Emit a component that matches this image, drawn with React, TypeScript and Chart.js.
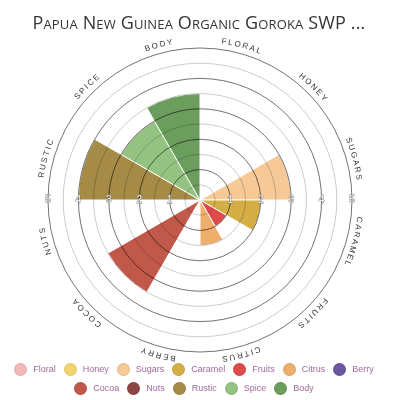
import React, { useEffect, useRef } from 'react'
import Chart from 'chart.js/auto'

const title = 'Papua New Guinea Organic Goroka SWP ...'
const categories = ['Floral', 'Honey', 'Sugars', 'Caramel', 'Fruits', 'Citrus', 'Berry', 'Cocoa', 'Nuts', 'Rustic', 'Spice', 'Body']
const intensity = [0, 0, 3, 2, 1, 1.5, 0, 3.5, 0, 4, 3, 3.5]
const colors = [
  '#f2b7b7', '#f3d46c', '#f7c996', '#d4ad45', '#df4a4a', '#eeae6c',
  '#6b579e', '#c0594a', '#8e4444', '#a58b46', '#94c381', '#6b9d5c',
]
const tickValues = [1, 2, 3, 4, 5]

// category names bent along the outer ring
const curvedLabels = {
  id: 'curvedLabels',
  afterDraw(chart: any) {
    const scale = chart.scales.r
    const ctx = chart.ctx
    const cx = scale.xCenter
    const cy = scale.yCenter
    const r = scale.drawingArea + 6
    const n = categories.length
    const spacing = 1.8
    ctx.save()
    ctx.font = '8px "Liberation Sans", Arial, sans-serif'
    ctx.fillStyle = '#333'
    ctx.textAlign = 'center'
    ctx.textBaseline = 'alphabetic'
    categories.forEach((label, i) => {
      const chars = label.toUpperCase().split('')
      const widths = chars.map((c) => ctx.measureText(c).width)
      const total = widths.reduce((a, b) => a + b, 0) + spacing * (chars.length - 1)
      const mid = -Math.PI / 2 + ((i + 0.5) * 2 * Math.PI) / n
      let acc = -total / 2
      chars.forEach((c, k) => {
        const a = mid + (acc + widths[k] / 2) / r
        ctx.save()
        ctx.translate(cx + r * Math.cos(a), cy + r * Math.sin(a))
        ctx.rotate(a + Math.PI / 2)
        ctx.fillText(c, 0, 0)
        ctx.restore()
        acc += widths[k] + spacing
      })
    })
    ctx.restore()
  },
}

// value ticks on both sides of the horizontal axis
const sideTicks = {
  id: 'sideTicks',
  afterDraw(chart: any) {
    const scale = chart.scales.r
    const ctx = chart.ctx
    ctx.save()
    ctx.font = '10px "Liberation Sans", Arial, sans-serif'
    ctx.textAlign = 'center'
    ctx.textBaseline = 'middle'
    ctx.lineWidth = 0.8
    ctx.strokeStyle = '#777'
    ctx.fillStyle = '#eee'
    tickValues.forEach((v) => {
      const d = scale.getDistanceFromCenterForValue(v)
      ;[-1, 1].forEach((side) => {
        const x = scale.xCenter + side * d
        ctx.strokeText(String(v), x, scale.yCenter)
        ctx.fillText(String(v), x, scale.yCenter)
      })
    })
    ctx.restore()
  },
}

export default function App() {
  const chartRef = useRef<HTMLCanvasElement>(null)
  const chartInstance = useRef<Chart | null>(null)

  useEffect(() => {
    if (!chartRef.current) return
    if (chartInstance.current) chartInstance.current.destroy()
    chartInstance.current = new Chart(chartRef.current, {
      type: 'polarArea',
      data: {
        labels: categories,
        datasets: [
          {
            data: intensity,
            backgroundColor: colors,
            borderColor: '#fff',
            borderWidth: 1,
          },
        ],
      },
      options: {
        animation: false,
        responsive: true,
        maintainAspectRatio: false,
        layout: { padding: { top: 48, bottom: 48 } },
        plugins: {
          legend: { display: false },
          tooltip: { enabled: false },
        },
        scales: {
          r: {
            min: 0,
            max: 5,
            ticks: { stepSize: 0.5, display: false },
            grid: {
              z: 1,
              lineWidth: 1,
              color: (c: any) =>
                c.tick && c.tick.value % 1 === 0 ? 'rgba(0,0,0,0.55)' : 'rgba(0,0,0,0.2)',
            },
            angleLines: { display: false },
            pointLabels: { display: false },
          },
        },
      },
      plugins: [curvedLabels, sideTicks],
    })
    return () => {
      if (chartInstance.current) {
        chartInstance.current.destroy()
        chartInstance.current = null
      }
    }
  }, [])

  return (
    <div style={{ position: 'absolute', left: 0, top: 0, width: 400, height: 400, background: '#fff' }}>
      <div style={{ position: 'absolute', left: 0, top: 0, width: 400, height: 400 }}>
        <canvas ref={chartRef} />
      </div>
      <div
        style={{
          position: 'absolute',
          left: 0,
          top: 12,
          width: 398,
          textAlign: 'center',
          fontFamily: '"Open Sans", sans-serif',
          fontVariant: 'small-caps',
          fontSize: 18,
          lineHeight: '20px',
          letterSpacing: 0.15,
          color: '#333',
          whiteSpace: 'nowrap',
        }}
      >
        {title}
      </div>
      <div
        style={{
          position: 'absolute',
          left: 0,
          top: 362.5,
          width: 388,
          display: 'flex',
          flexWrap: 'wrap',
          justifyContent: 'center',
          columnGap: 7.8,
          rowGap: 6.3,
          fontFamily: '"Liberation Sans", Arial, sans-serif',
          fontSize: 9,
          color: '#a0689a',
        }}
      >
        {categories.map((c, i) => (
          <div key={c} style={{ display: 'flex', alignItems: 'center', height: 13 }}>
            <span
              style={{
                width: 13,
                height: 13,
                borderRadius: '50%',
                background: colors[i],
                boxSizing: 'border-box',
                border: '1px solid rgba(0,0,0,0.08)',
                marginRight: 6.2,
              }}
            />
            <span style={{ lineHeight: '13px' }}>{c}</span>
          </div>
        ))}
      </div>
    </div>
  )
}
